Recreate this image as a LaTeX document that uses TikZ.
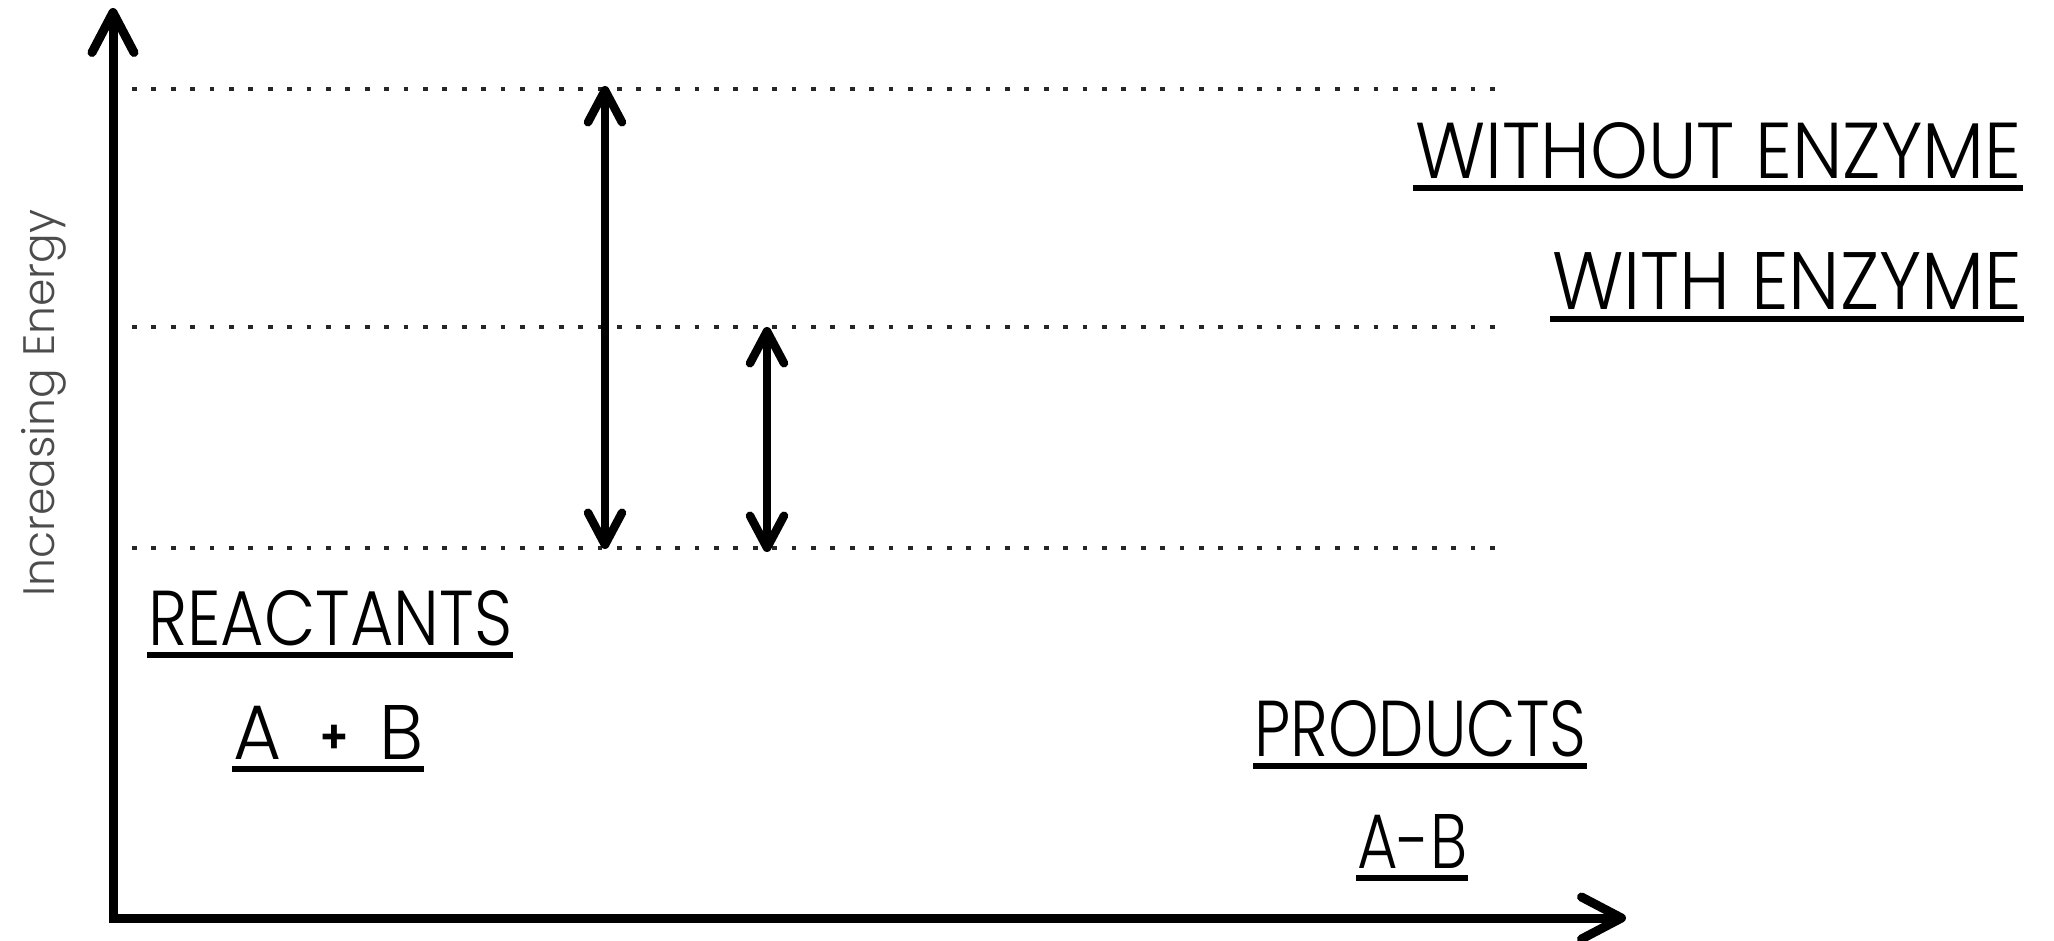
\documentclass[tikz,border=0pt]{standalone}
\usepackage{fontspec}
\usepackage{graphicx}
\setmainfont{Poppins}[UprightFont=* Light, BoldFont=* SemiBold]
\usetikzlibrary{arrows.meta}
\newcommand{\fitbox}[3]{\resizebox{#1pt}{#2pt}{\fontsize{80}{80}\selectfont #3}}
\begin{document}
\begin{tikzpicture}[x=1pt,y=-1pt,
  axis/.style={line width=9pt, line join=miter,
    {Straight Barb[length=40pt,width=42pt,round]}-{Straight Barb[length=40pt,width=42pt,round]}},
  level/.style={line width=4.8pt, black!85, dash pattern=on 4.8pt off 14.6pt},
  gap/.style={line width=8.5pt,
    {Straight Barb[length=32pt,width=34pt,round]}-{Straight Barb[length=32pt,width=34pt,round]}},
  lbl/.style={inner sep=0pt, anchor=base west},
  uline/.style={line width=6pt}]
\path[use as bounding box] (0,0) rectangle (2054,941);

% axes
\coordinate (origin) at (113,918);
\coordinate (ytip) at (113,8);
\coordinate (xtip) at (1626,918);
\draw[axis] (ytip) -- (origin) -- (xtip);

% energy levels
\coordinate (hiL) at (132,89);   \coordinate (hiR) at (1495,89);
\coordinate (midL) at (132,327); \coordinate (midR) at (1495,327);
\coordinate (loL) at (132,548);  \coordinate (loR) at (1495,548);
\draw[level] (hiL) -- (hiR);
\draw[level] (midL) -- (midR);
\draw[level] (loL) -- (loR);

% activation energy arrows
\coordinate (a1top) at (605,86);  \coordinate (a1bot) at (605,549);
\coordinate (a2top) at (767,327); \coordinate (a2bot) at (767,552);
\draw[gap] (a1top) -- (a1bot);
\draw[gap] (a2top) -- (a2bot);

% y label
\node[rotate=90, anchor=base west, inner sep=0pt, text=black!70] (ylabel) at (54,597)
  {\resizebox{387pt}{!}{\fontsize{40}{40}\selectfont Increasing Energy}};

% labels
\node[lbl] (without) at (1415,179) {\fitbox{606}{56}{WITHOUT ENZYME}};
\draw[uline] ([shift={(-2,9.5)}]without.base west) -- ([shift={(2,9.5)}]without.base east);

\node[lbl] (with) at (1552,310) {\fitbox{470}{57}{WITH ENZYME}};
\draw[uline] ([shift={(-2,9.5)}]with.base west) -- ([shift={(2,9.5)}]with.base east);

\node[lbl] (react) at (148,645) {\fitbox{364}{55}{REACTANTS}};
\draw[uline] ([shift={(-1,9.5)}]react.base west) -- ([shift={(1,9.5)}]react.base east);

\node[lbl] (ab) at (233,759) {\fitbox{190}{54}{A\hspace{0.52em}\raisebox{6pt}{\fontsize{48}{48}\selectfont\bfseries +}\hspace{0.40em}B}};
\draw[uline] ([shift={(-1,9.5)}]ab.base west) -- ([shift={(1,9.5)}]ab.base east);

\node[lbl] (prod) at (1254,756) {\fitbox{332}{56}{PRODUCTS}};
\draw[uline] ([shift={(-1,9.5)}]prod.base west) -- ([shift={(1,9.5)}]prod.base east);

\node[lbl] (aminusb) at (1357,868) {\fitbox{110}{54}{A-B}};
\draw[uline] ([shift={(-1,9.5)}]aminusb.base west) -- ([shift={(1,9.5)}]aminusb.base east);
\end{tikzpicture}
\end{document}
